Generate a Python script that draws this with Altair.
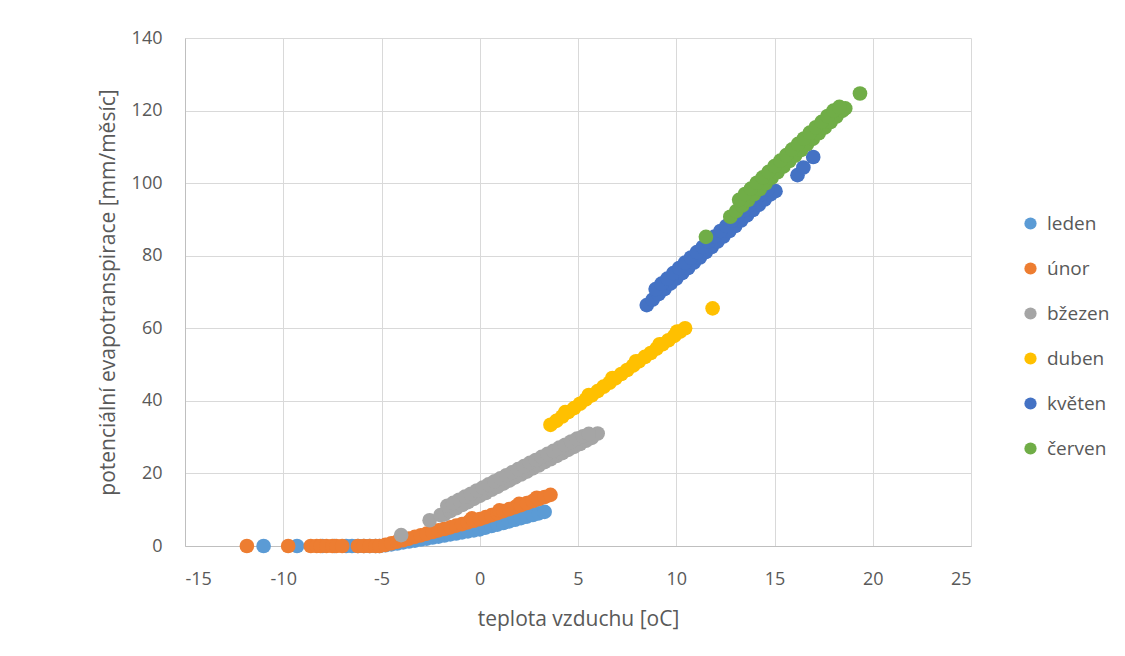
import altair as alt
import pandas as pd

months = ["leden", "únor", "bžezen", "duben", "květen", "červen"]
colors = ["#5B9BD5", "#ED7D31", "#A5A5A5", "#FFC000", "#4472C4", "#70AD47"]

leden_x = [-11.0, -9.3, -8.0, -7.4, -6.8, -6.5, -6.2, -5.9, -5.6, -5.3, -5.1,
           -4.8, -4.5, -4.2, -3.9, -3.6, -3.3, -3.0, -2.7, -2.4, -2.1, -1.8, -1.5, -1.2,
           -0.9, -0.6, -0.3, 0.0, 0.3, 0.6, 0.9, 1.2, 1.5, 1.8, 2.1, 2.4, 2.7, 3.0, 3.3]
leden_y = [0, 0, 0, 0, 0, 0, 0, 0, 0, 0, 0,
           0.2, 0.45, 0.7, 1.0, 1.25, 1.5, 1.8, 2.05, 2.35, 2.6, 2.9, 3.2, 3.45,
           3.75, 4.05, 4.3, 4.6, 5.05, 5.5, 5.9, 6.35, 6.8, 7.25, 7.7, 8.1, 8.55, 9.0, 9.4]

unor_x = [-11.85, -9.75, -8.6, -8.3, -8.1, -7.8, -7.5, -7.3, -7.0, -6.2, -5.9, -5.6, -5.3, -5.1,
          -4.8, -4.5, -4.2, -3.9, -3.6, -3.3, -3.0, -2.7, -2.4, -2.1, -1.8, -1.5, -1.2,
          -0.9, -0.6, -0.4, -0.3, 0.0, 0.3, 0.6, 0.9, 1.0, 1.2, 1.5, 1.8, 2.0, 2.1, 2.4, 2.7,
          2.9, 3.0, 3.3, 3.6]
unor_y = [0, 0, 0, 0, 0, 0, 0, 0, 0, 0, 0, 0, 0, 0,
          0.3, 0.75, 1.2, 1.6, 2.05, 2.5, 2.95, 3.4, 3.85, 4.3, 4.7, 5.15, 5.6,
          6.05, 6.5, 7.6, 6.95, 7.4, 7.95, 8.5, 9.05, 9.8, 9.6, 10.15, 10.7, 11.6, 11.25, 11.85, 12.4,
          13.3, 12.95, 13.5, 14.1]

brezen_x = [-4.0, -2.55, -2.0,
            -1.8, -1.5, -1.2, -0.9, -0.6, -0.3, 0.0, 0.3, 0.6, 0.9, 1.2, 1.5, 1.8, 2.1,
            2.4, 2.7, 3.0, 3.3, 3.6, 3.9, 4.2, 4.5, 4.8, 5.1, 5.4, 5.7, 6.0,
            -1.65, -1.35, -1.05, -0.75, -0.45, -0.15, 0.15, 0.45, 0.75, 1.05, 1.35, 1.65,
            1.95, 2.25, 2.55, 2.85, 3.15, 3.45, 3.75, 4.05, 4.35, 4.65, 4.95, 5.25, 5.55]
brezen_y = [3.0, 7.1, 8.5,
            8.7, 9.6, 10.4, 11.3, 12.1, 13.0, 13.8, 14.6, 15.5, 16.3, 17.2, 18.0, 18.9, 19.7,
            20.5, 21.4, 22.2, 23.1, 23.9, 24.8, 25.6, 26.5, 27.3, 28.1, 29.0, 29.8, 31.0,
            11.1, 11.9, 12.75, 13.6, 14.4, 15.3, 16.1, 17.0, 17.8, 18.65, 19.5, 20.3,
            21.2, 22.0, 22.9, 23.7, 24.55, 25.4, 26.2, 27.1, 27.9, 28.8, 29.6, 30.2, 30.9]

duben_x = [3.6, 3.9, 4.2, 4.5, 4.8, 5.1, 5.4, 5.7, 6.0, 6.3, 6.6, 6.9, 7.2, 7.5, 7.8,
           8.1, 8.4, 8.7, 9.0, 9.3, 9.6, 9.9, 10.2, 10.45,
           4.35, 5.55, 6.75, 7.95, 9.15, 10.05, 11.85]
duben_y = [33.4, 34.5, 35.7, 36.9, 38.0, 39.2, 40.4, 41.5, 42.7, 43.9, 45.0, 46.2, 47.4, 48.5, 49.7,
           50.9, 52.1, 53.2, 54.4, 55.6, 56.7, 57.9, 59.1, 60.0,
           36.9, 41.6, 46.3, 50.9, 55.6, 59.1, 65.5]

kveten_x = [8.5, 8.8, 9.1, 9.4, 9.7, 10.0, 10.3, 10.6, 10.9, 11.2, 11.5, 11.8, 12.1,
            12.4, 12.7, 13.0, 13.3, 13.6, 13.9, 14.2, 14.5, 14.8, 15.05,
            8.95, 9.25, 9.55, 9.85, 10.15, 10.45, 10.75, 11.05, 11.35, 11.65, 11.95, 12.25,
            12.55, 12.85, 13.15, 13.45, 13.75, 14.05, 14.35, 14.65,
            16.17, 16.47, 16.97]
kveten_y = [66.4, 67.9, 69.4, 70.8, 72.3, 73.7, 75.2, 76.6, 78.1, 79.5, 81.0, 82.4, 83.9,
            85.3, 86.8, 88.2, 89.7, 91.1, 92.6, 94.0, 95.5, 96.9, 97.8,
            70.8, 72.3, 73.7, 75.2, 76.6, 78.1, 79.5, 81.0, 82.4, 83.9, 85.3, 86.8,
            88.2, 89.7, 91.2, 92.6, 94.1, 95.5, 97.0, 98.4,
            102.2, 104.3, 107.2]

cerven_x = [11.51, 12.75, 13.05, 13.35, 13.65, 13.95, 14.25, 14.55, 14.85, 15.15, 15.45,
            15.75, 16.05, 16.35, 16.65, 16.95, 17.25, 17.55, 17.85, 18.15, 18.45, 18.6,
            13.2, 13.5, 13.8, 14.1, 14.4, 14.7, 15.0, 15.3, 15.6, 15.9, 16.2, 16.5,
            16.8, 17.1, 17.4, 17.7, 18.0, 18.3, 19.35]
cerven_y = [85.2, 90.75, 92.3, 93.8, 95.35, 96.9, 98.4, 99.95, 101.5, 103.0, 104.55,
            106.1, 107.6, 109.15, 110.7, 112.2, 113.75, 115.3, 116.8, 118.35, 119.9, 120.6,
            95.4, 97.0, 98.5, 100.1, 101.6, 103.1, 104.7, 106.2, 107.7, 109.3, 110.8, 112.3,
            113.9, 115.4, 116.9, 118.5, 120.0, 121.0, 124.7]

x_ticks = [-15, -10, -5, 0, 5, 10, 15, 20, 25]
y_ticks = [0, 20, 40, 60, 80, 100, 120, 140]

series = [(months[0], leden_x, leden_y), (months[1], unor_x, unor_y),
          (months[2], brezen_x, brezen_y), (months[3], duben_x, duben_y),
          (months[4], kveten_x, kveten_y), (months[5], cerven_x, cerven_y)]
rows = []
for i, (name, xs, ys) in enumerate(series):
    for xv, yv in zip(xs, ys):
        rows.append({"mesic": name, "order": i, "t": xv, "pet": yv})
df = pd.DataFrame(rows)

font = "Open Sans"
text_color = "#595959"

chart = alt.Chart(df).mark_circle(size=215, opacity=1).encode(
    x=alt.X("t:Q", scale=alt.Scale(domain=[-15, 25], nice=False),
            axis=alt.Axis(values=x_ticks, title="teplota vzduchu [oC]",
                          labelExpr="'' + datum.value",
                          labelPadding=24, titlePadding=20)),
    y=alt.Y("pet:Q", scale=alt.Scale(domain=[0, 140], nice=False),
            axis=alt.Axis(values=y_ticks, title="potenciální evapotranspirace [mm/měsíc]",
                          labelPadding=23, titlePadding=13)),
    color=alt.Color("mesic:N", sort=months,
                    scale=alt.Scale(domain=months, range=colors),
                    legend=alt.Legend(title=None, orient="none", legendX=836, legendY=176,
                                      symbolType="circle", symbolSize=150, symbolOpacity=1,
                                      symbolStrokeWidth=0, labelFontSize=19, labelColor=text_color,
                                      labelFont=font, rowPadding=25, labelOffset=7, padding=0)),
    order=alt.Order("order:Q"),
).properties(
    width=786, height=508,
    background="white",
    autosize=alt.AutoSizeParams(type="none"),
    padding={"left": 177, "top": 30, "right": 146, "bottom": 95},
).configure_axis(
    grid=True, gridColor="#D9D9D9", gridWidth=1,
    domainColor="#BFBFBF", domainWidth=1,
    ticks=False, tickSize=0,
    labelFont=font, labelFontSize=18, labelColor=text_color,
    titleFont=font, titleFontSize=21, titleFontWeight="normal", titleColor=text_color,
).configure_view(strokeWidth=0)

chart.save("out.html", embed_options={"renderer": "svg", "actions": False})
